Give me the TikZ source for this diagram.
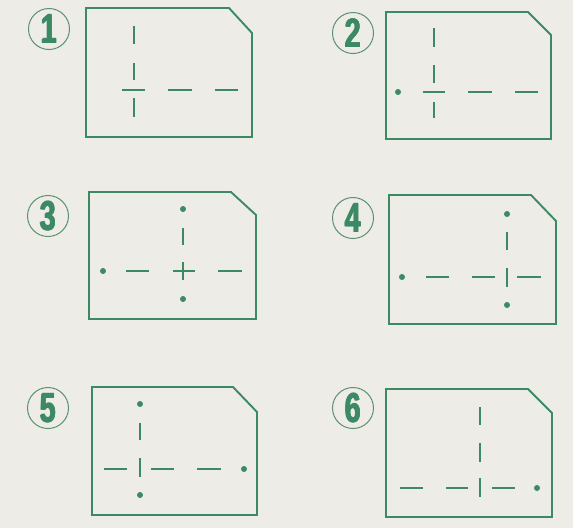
\documentclass[tikz,border=0pt]{standalone}
\usepackage{fontspec}
\setmainfont{Liberation Sans}
\definecolor{paper}{HTML}{EDECE7}
\definecolor{ink}{HTML}{3C8A64}
\definecolor{ring}{HTML}{5E8F74}
\newcommand{\fatdigit}[1]{\scalebox{0.7}[1]{\rlap{\hspace{0.5pt}#1}\rlap{\hspace{-0.5pt}#1}\rlap{\raisebox{0.4pt}{#1}}#1}}
\begin{document}
\begin{tikzpicture}[x=1pt,y=-1pt,
  frame/.style={draw=ink,line width=1.9pt,line join=miter},
  seg/.style={draw=ink,line width=1.6pt},
  dotmark/.style={circle,fill=ink,inner sep=0pt,minimum size=6pt},
  numring/.style={circle,draw=ring,line width=1pt,minimum size=41pt,inner sep=0pt,text=ink,
    font=\fontsize{41}{41}\selectfont\bfseries}]
\fill[paper] (0,0) rectangle (573,528);
\useasboundingbox (0,0) rectangle (573,528);
% numbers
\node[numring] (n1) at (49,29) {\fatdigit{1}};
\node[numring] (n2) at (353,33) {\fatdigit{2}};
\node[numring] (n3) at (48,216) {\fatdigit{3}};
\node[numring] (n4) at (353,218) {\fatdigit{4}};
\node[numring] (n5) at (48,408) {\fatdigit{5}};
\node[numring] (n6) at (353,408) {\fatdigit{6}};
% panel 1
\draw[frame] (86,8) -- (229,8) -- (252,33) -- (252,137) -- (86,137) -- cycle;
\draw[seg] (134,26) -- (134,44) (134,63) -- (134,80) (134,98) -- (134,117);
\draw[seg] (122,90) -- (145,90) (168,90) -- (192,90) (215,90) -- (238,90);
% panel 2
\draw[frame] (386,12) -- (528,12) -- (551,35) -- (551,139) -- (386,139) -- cycle;
\draw[seg] (434,28) -- (434,47) (434,65) -- (434,83) (434,102) -- (434,118);
\draw[seg] (423,92) -- (445,92) (468,92) -- (492,92) (515,92) -- (538,92);
\node[dotmark] (d2a) at (398,92) {};
% panel 3
\draw[frame] (89,192) -- (231,192) -- (256,215) -- (256,319) -- (89,319) -- cycle;
\node[dotmark] (d3a) at (183,209) {};
\node[dotmark] (d3b) at (183,299) {};
\node[dotmark] (d3c) at (103,271) {};
\draw[seg] (183,228) -- (183,245) (183,262) -- (183,280);
\draw[seg] (126,271) -- (149,271) (173,271) -- (195,271) (218,271) -- (242,271);
% panel 4
\draw[frame] (389,195) -- (531,195) -- (556,221) -- (556,324) -- (389,324) -- cycle;
\node[dotmark] (d4a) at (507,214) {};
\node[dotmark] (d4b) at (507,305) {};
\node[dotmark] (d4c) at (402,277) {};
\draw[seg] (507,232) -- (507,250) (507,268) -- (507,287);
\draw[seg] (426,277) -- (449,277) (472,277) -- (495,277) (517,277) -- (541,277);
% panel 5
\draw[frame] (92,387) -- (233,387) -- (257,412) -- (257,515) -- (92,515) -- cycle;
\node[dotmark] (d5a) at (140,404) {};
\node[dotmark] (d5b) at (140,495) {};
\node[dotmark] (d5c) at (244,469) {};
\draw[seg] (140,423) -- (140,440) (140,458) -- (140,477);
\draw[seg] (104,469) -- (127,469) (151,469) -- (174,469) (197,469) -- (221,469);
% panel 6
\draw[frame] (386,389) -- (528,389) -- (552,413) -- (552,517) -- (386,517) -- cycle;
\draw[seg] (480,407) -- (480,425) (480,443) -- (480,462) (480,478) -- (480,497);
\draw[seg] (400,488) -- (423,488) (446,488) -- (468,488) (492,488) -- (515,488);
\node[dotmark] (d6a) at (537,488) {};
\end{tikzpicture}
\end{document}
